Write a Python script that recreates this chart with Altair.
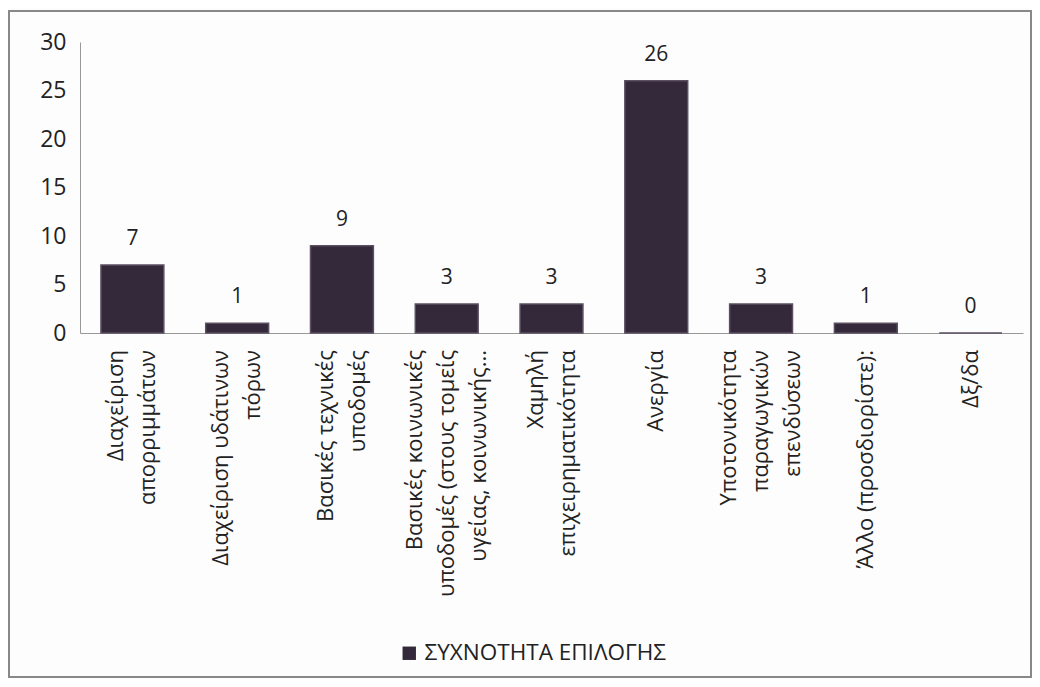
import altair as alt
import pandas as pd

categories = [
    "Διαχείριση|απορριμμάτων",
    "Διαχείριση υδάτινων|πόρων",
    "Βασικές τεχνικές|υποδομές",
    "Βασικές κοινωνικές|υποδομές (στους τομείς|υγείας, κοινωνικής...",
    "Χαμηλή|επιχειρηματικότητα",
    "Ανεργία",
    "Υποτονικότητα|παραγωγικών|επενδύσεων",
    "Άλλο (προσδιορίστε):",
    "Δξ/δα",
]
values = [7, 1, 9, 3, 3, 26, 3, 1, 0]
series_name = "ΣΥΧΝΟΤΗΤΑ ΕΠΙΛΟΓΗΣ"
y_ticks = [0, 5, 10, 15, 20, 25, 30]

df = pd.DataFrame({"cat": categories, "val": values, "series": [series_name] * len(values)})

FONT = "Open Sans"
W, H = 943, 291
BAR = "#33293a"
LH = 32

x = alt.X("cat:N", sort=categories, title=None,
          scale=alt.Scale(paddingInner=0.4, paddingOuter=0.2),
          axis=alt.Axis(labels=False, ticks=False, domainColor="#999"))
y = alt.Y("val:Q", title=None,
          scale=alt.Scale(domain=[0, 30]),
          axis=alt.Axis(values=y_ticks, grid=False, ticks=False,
                        labelFont=FONT, labelFontSize=23, labelColor="#222",
                        labelPadding=14, domainColor="#999"))

base = alt.Chart(df)

bars = base.mark_bar(stroke="#5b4f61", strokeWidth=1.5).encode(
    x=x, y=y,
    color=alt.Color("series:N", scale=alt.Scale(range=[BAR]),
                    legend=alt.Legend(title=None, orient="none", legendX=318, legendY=600,
                                      symbolType="square", labelLimit=500,
                                      symbolSize=180, symbolStrokeWidth=0,
                                      labelFont=FONT, labelFontSize=22.5,
                                      labelColor="#222")),
)
text = base.mark_text(dy=-26, font=FONT, fontSize=21, color="#222").encode(
    x=alt.X("cat:N", sort=categories), y="val:Q", text="val:Q"
)

# category labels: rotated, multi-line, block centred on the band
lab_base = base.transform_calculate(nlines="length(split(datum.cat, '|'))")
label_layers = []
for n in (1, 2, 3):
    label_layers.append(
        lab_base.transform_filter(f"datum.nlines == {n}").mark_text(
            angle=270, align="right", baseline="middle", lineBreak="|", lineHeight=LH,
            dy=-(n - 1) * LH / 2, font=FONT, fontSize=22, color="#222",
        ).encode(x=alt.X("cat:N", sort=categories), y=alt.value(H + 17), text="cat:N")
    )

frame = base.mark_rect(fill=None, stroke="#888", strokeWidth=1.5).encode(
    x=alt.value(-71), x2=alt.value(W + 8), y=alt.value(-31), y2=alt.value(H + 344)
)

chart = alt.layer(frame, bars, text, *label_layers).properties(
    width=W, height=H,
    padding={"left": 0, "top": 2, "right": 0, "bottom": 0},
).configure(background="#fdfdfd").configure_view(stroke=None)

chart.save("out.html", embed_options={"renderer": "svg", "actions": False})
